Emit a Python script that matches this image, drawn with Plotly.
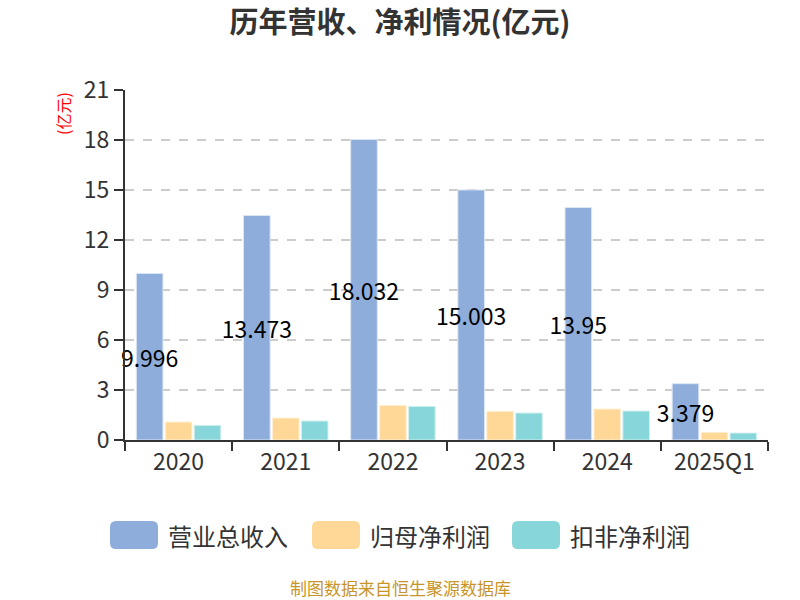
import plotly.graph_objects as go

categories = ["2020", "2021", "2022", "2023", "2024", "2025Q1"]
revenue = [9.996, 13.473, 18.032, 15.003, 13.95, 3.379]
parent_profit = [1.08, 1.32, 2.08, 1.72, 1.86, 0.46]
deducted_profit = [0.88, 1.14, 2.02, 1.62, 1.74, 0.42]
series_names = ["营业总收入", "归母净利润", "扣非净利润"]
colors = ["#8EADDB", "#FFD898", "#87D6D9"]
revenue_labels = ["9.996", "13.473", "18.032", "15.003", "13.95", "3.379"]

FONT = "Noto Sans CJK SC, Noto Sans, sans-serif"

W, H = 800, 600
ML, MR, MT, MB = 125, 32, 90, 160
PW, PH = W - ML - MR, H - MT - MB


def px(x):
    return (x - ML) / PW


def py(y):
    return (H - MB - y) / PH


fig = go.Figure()
fig.add_trace(go.Bar(
    x=categories, y=revenue, name=series_names[0],
    marker=dict(color=colors[0], line=dict(color="#DCE6F5", width=1)),
    text=revenue_labels, textposition="inside", insidetextanchor="middle",
    textangle=0, constraintext="none", cliponaxis=False,
    textfont=dict(color="#000000", size=23, family=FONT),
))
fig.add_trace(go.Bar(
    x=categories, y=parent_profit, name=series_names[1],
    marker=dict(color=colors[1], line=dict(color="#FFF0D6", width=1)),
))
fig.add_trace(go.Bar(
    x=categories, y=deducted_profit, name=series_names[2],
    marker=dict(color=colors[2], line=dict(color="#D4F0F1", width=1)),
))

fig.update_layout(
    width=W, height=H,
    paper_bgcolor="white", plot_bgcolor="white",
    margin=dict(l=ML, r=MR, t=MT, b=MB),
    barmode="group", bargap=0.19, bargroupgap=0.08,
    showlegend=False,
    font=dict(family=FONT, color="#333333"),
    title=dict(text="<b>历年营收、净利情况(亿元)</b>", x=0.5, xanchor="center",
               y=1 - 23 / H, yanchor="middle",
               font=dict(size=29, color="#333333", family=FONT)),
)
fig.update_yaxes(
    range=[0, 21], dtick=3, tick0=0,
    showline=True, linecolor="#333333", linewidth=2,
    ticks="outside", ticklen=9, tickcolor="#333333", tickwidth=2,
    tickfont=dict(size=23, color="#333333", family=FONT),
    showgrid=True, gridcolor="#CCCCCC", griddash="dash", gridwidth=1.5,
    zeroline=False,
)
fig.update_xaxes(
    showline=True, linecolor="#333333", linewidth=2,
    ticks="outside", ticklen=9, tickcolor="#333333", tickwidth=2,
    tickson="boundaries",
    tickfont=dict(size=23, color="#333333", family=FONT),
    showgrid=False,
)

# y-axis unit label
fig.add_annotation(text="(亿元)", xref="paper", yref="paper", x=px(63), y=py(114),
                   xanchor="center", yanchor="middle", textangle=-90, showarrow=False,
                   font=dict(size=16, color="#FF0000", family=FONT))

# custom legend
legend_x = [110, 312, 512]
for i, name in enumerate(series_names):
    x0 = legend_x[i]
    x1 = x0 + 48
    y0, y1 = 521, 549
    r = 6
    path = (f"M {px(x0 + r)} {py(y0)} L {px(x1 - r)} {py(y0)} "
            f"Q {px(x1)} {py(y0)} {px(x1)} {py(y0 + r)} L {px(x1)} {py(y1 - r)} "
            f"Q {px(x1)} {py(y1)} {px(x1 - r)} {py(y1)} L {px(x0 + r)} {py(y1)} "
            f"Q {px(x0)} {py(y1)} {px(x0)} {py(y1 - r)} L {px(x0)} {py(y0 + r)} "
            f"Q {px(x0)} {py(y0)} {px(x0 + r)} {py(y0)} Z")
    fig.add_shape(type="path", path=path, xref="paper", yref="paper",
                  fillcolor=colors[i], line=dict(width=0))
    fig.add_annotation(text=name, xref="paper", yref="paper",
                       x=px(x1 + 8), y=py(535), xanchor="left", yanchor="middle",
                       showarrow=False, font=dict(size=24, color="#333333", family=FONT))

fig.add_annotation(text="制图数据来自恒生聚源数据库", xref="paper", yref="paper",
                   x=px(400), y=py(587),
                   xanchor="center", yanchor="middle", showarrow=False,
                   font=dict(size=17, color="#C8952A", family=FONT))

fig.write_html("out.html", config={"displayModeBar": False},
               post_script="document.body.style.margin='0';")
